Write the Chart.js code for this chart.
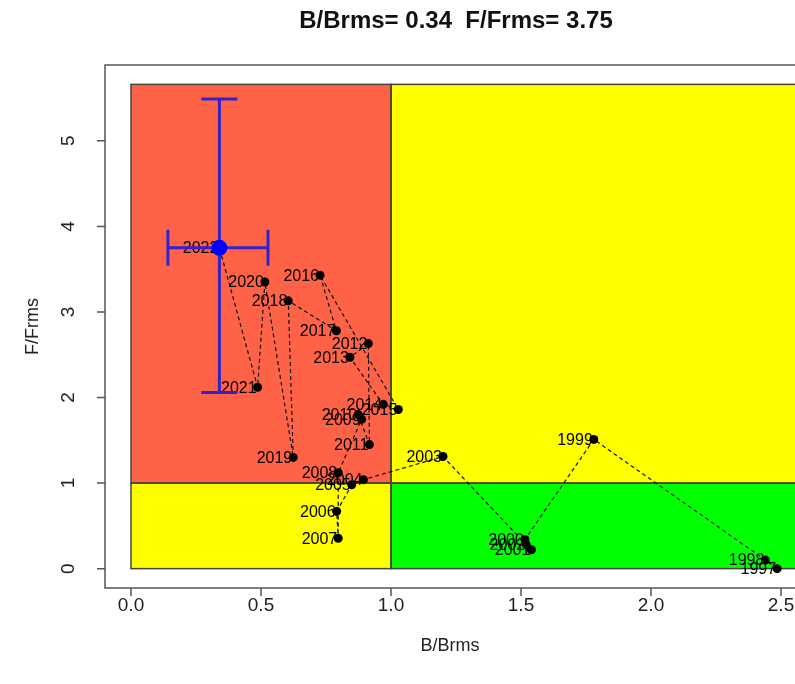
<!DOCTYPE html>
<html>
<head>
<meta charset="utf-8">
<title>Kobe trajectory</title>
<script src="https://cdn.jsdelivr.net/npm/chart.js@4.4.1/dist/chart.umd.min.js"></script>
<style>
  html, body { margin: 0; padding: 0; background: #ffffff; overflow: hidden; width: 795px; height: 684px; }
  canvas { display: block; }
</style>
</head>
<body>
<canvas id="kobe" width="830" height="684"></canvas>
<script>
// Stock status trajectory: biomass ratio (B/Brms) and fishing ratio (F/Frms) per year
const years  = [1997, 1998, 1999, 2000, 2001, 2002, 2003, 2004, 2005, 2006, 2007, 2008, 2009,
                2010, 2011, 2012, 2013, 2014, 2015, 2016, 2017, 2018, 2019, 2020, 2021, 2022];
const bRatio = [2.485, 2.44, 1.78, 1.515, 1.54, 1.52, 1.20, 0.894, 0.849, 0.791, 0.797, 0.797, 0.887,
                0.874, 0.917, 0.913, 0.842, 0.97, 1.028, 0.727, 0.79, 0.605, 0.624, 0.515, 0.487, 0.34];
const fRatio = [0.00, 0.10, 1.51, 0.34, 0.22, 0.28, 1.31, 1.04, 0.98, 0.67, 0.355, 1.12, 1.745,
                1.80, 1.45, 2.63, 2.47, 1.92, 1.86, 3.43, 2.78, 3.13, 1.30, 3.35, 2.12, 3.75];

// Latest year estimate and its uncertainty
const currentB = 0.34;
const currentF = 3.75;
const bInterval = [0.142, 0.527];
const fInterval = [2.06, 5.49];

// Reference points and quadrant limits (data units)
const bRef = 1;
const fRef = 1;
const fTop = 5.66;
const bRight = 2.6;

// Axis ticks
const xTicks = [0, 0.5, 1, 1.5, 2, 2.5];
const xTickLabels = ["0.0", "0.5", "1.0", "1.5", "2.0", "2.5"];
const yTicks = [0, 1, 2, 3, 4, 5];
const yTickLabels = ["0", "1", "2", "3", "4", "5"];

const FONT = "'Liberation Sans', Arial, Helvetica, sans-serif";

const kobePlugin = {
  id: 'kobePlugin',
  beforeDatasetsDraw(chart) {
    const { ctx, scales: { x, y } } = chart;
    const quads = [
      [0, bRef, fRef, fTop, '#ff6347'],
      [bRef, bRight, fRef, fTop, '#ffff00'],
      [0, bRef, 0, fRef, '#ffff00'],
      [bRef, bRight, 0, fRef, '#00ff00']
    ];
    ctx.save();
    quads.forEach(([x0, x1, y0, y1, col]) => {
      const px0 = x.getPixelForValue(x0), px1 = x.getPixelForValue(x1);
      const py0 = y.getPixelForValue(y0), py1 = y.getPixelForValue(y1);
      ctx.fillStyle = col;
      ctx.fillRect(px0, py1, px1 - px0, py0 - py1);
    });
    ctx.strokeStyle = '#444';
    ctx.lineWidth = 1.5;
    quads.forEach(([x0, x1, y0, y1]) => {
      const px0 = x.getPixelForValue(x0), px1 = x.getPixelForValue(x1);
      const py0 = y.getPixelForValue(y0), py1 = y.getPixelForValue(y1);
      ctx.strokeRect(px0, py1, px1 - px0, py0 - py1);
    });
    ctx.restore();
  },
  afterDatasetDraw(chart, args) {
    if (args.index !== 0) return;
    const { ctx } = chart;
    const pts = chart.getDatasetMeta(0).data;
    ctx.save();
    ctx.fillStyle = '#000';
    ctx.font = '16px ' + FONT;
    ctx.textAlign = 'right';
    ctx.textBaseline = 'middle';
    pts.forEach((p, i) => ctx.fillText(String(years[i]), p.x - 1, p.y + 1));
    ctx.restore();
  },
  beforeDatasetDraw(chart, args) {
    if (args.index !== 1) return;
    const { ctx, scales: { x, y } } = chart;
    const cx = x.getPixelForValue(currentB), cy = y.getPixelForValue(currentF);
    const xl = x.getPixelForValue(bInterval[0]), xr = x.getPixelForValue(bInterval[1]);
    const yb = y.getPixelForValue(fInterval[0]), yt = y.getPixelForValue(fInterval[1]);
    const cap = 18;
    ctx.save();
    ctx.strokeStyle = '#3322cc';
    ctx.lineWidth = 3;
    ctx.beginPath();
    ctx.moveTo(xl, cy); ctx.lineTo(xr, cy);
    ctx.moveTo(xl, cy - cap); ctx.lineTo(xl, cy + cap);
    ctx.moveTo(xr, cy - cap); ctx.lineTo(xr, cy + cap);
    ctx.moveTo(cx, yb); ctx.lineTo(cx, yt);
    ctx.moveTo(cx - cap, yb); ctx.lineTo(cx + cap, yb);
    ctx.moveTo(cx - cap, yt); ctx.lineTo(cx + cap, yt);
    ctx.stroke();
    ctx.restore();
  },
  afterDraw(chart) {
    const { ctx, chartArea: a, scales: { x, y } } = chart;
    ctx.save();
    // plot frame
    ctx.strokeStyle = '#555';
    ctx.lineWidth = 1.5;
    ctx.strokeRect(a.left, a.top, a.right - a.left, a.bottom - a.top);
    // tick marks
    ctx.beginPath();
    xTicks.forEach(v => { const px = x.getPixelForValue(v); ctx.moveTo(px, a.bottom); ctx.lineTo(px, a.bottom + 8); });
    yTicks.forEach(v => { const py = y.getPixelForValue(v); ctx.moveTo(a.left, py); ctx.lineTo(a.left - 8, py); });
    ctx.stroke();
    // tick labels
    ctx.fillStyle = '#222';
    ctx.font = '19px ' + FONT;
    ctx.textAlign = 'center';
    ctx.textBaseline = 'middle';
    xTicks.forEach((v, i) => ctx.fillText(xTickLabels[i], x.getPixelForValue(v), a.bottom + 18));
    yTicks.forEach((v, i) => {
      ctx.save();
      ctx.translate(a.left - 36, y.getPixelForValue(v));
      ctx.rotate(-Math.PI / 2);
      ctx.fillText(yTickLabels[i], 0, 0);
      ctx.restore();
    });
    // axis titles
    const midX = (a.left + a.right) / 2, midY = (a.top + a.bottom) / 2;
    ctx.font = '18px ' + FONT;
    ctx.fillText('B/Brms', midX - 6, a.bottom + 58);
    ctx.save();
    ctx.translate(a.left - 72, midY);
    ctx.rotate(-Math.PI / 2);
    ctx.fillText('F/Frms', 0, 0);
    ctx.restore();
    // main title
    ctx.fillStyle = '#111';
    ctx.font = 'bold 24px ' + FONT;
    ctx.fillText('B/Brms= ' + currentB.toFixed(2) + '  F/Frms= ' + currentF.toFixed(2), midX, 21);
    ctx.restore();
  }
};

new Chart(document.getElementById('kobe'), {
  type: 'scatter',
  data: {
    datasets: [
      {
        label: 'trajectory',
        data: years.map((yr, i) => ({ x: bRatio[i], y: fRatio[i] })),
        showLine: true,
        tension: 0,
        borderColor: '#111',
        borderWidth: 1.2,
        borderDash: [4, 3],
        pointRadius: 4.5,
        pointBackgroundColor: '#000',
        pointBorderColor: '#000',
        pointBorderWidth: 0,
        order: 2
      },
      {
        label: 'current',
        data: [{ x: currentB, y: currentF }],
        pointRadius: 8,
        pointBackgroundColor: '#0000ff',
        pointBorderColor: '#0000ff',
        pointBorderWidth: 0,
        order: 1
      }
    ]
  },
  options: {
    responsive: false,
    animation: false,
    events: [],
    layout: { padding: { left: 105, top: 65, right: 23, bottom: 96 } },
    scales: {
      x: { type: 'linear', min: -0.1, max: 2.6, display: false },
      y: { type: 'linear', min: -0.2264, max: 5.8864, display: false }
    },
    plugins: { legend: { display: false }, tooltip: { enabled: false }, title: { display: false } }
  },
  plugins: [kobePlugin]
});
</script>
</body>
</html>
